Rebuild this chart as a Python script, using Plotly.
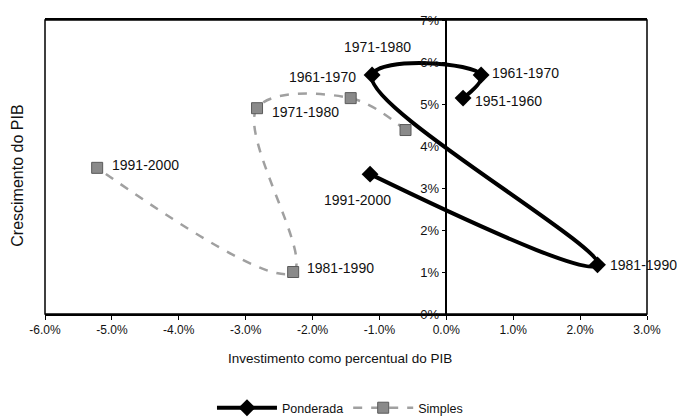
import plotly.graph_objects as go

# ---- data ----
decades = ["1951-1960", "1961-1970", "1971-1980", "1981-1990", "1991-2000"]
pond_x = [0.25, 0.52, -1.11, 2.26, -1.14]
pond_y = [5.14, 5.69, 5.69, 1.17, 3.33]
simp_x = [-0.61, -1.43, -2.83, -2.29, -5.22]
simp_y = [4.38, 5.14, 4.90, 1.00, 3.48]

x_tick_vals = [-6, -5, -4, -3, -2, -1, 0, 1, 2, 3]
x_tick_labels = ["-6.0%", "-5.0%", "-4.0%", "-3.0%", "-2.0%", "-1.0%", "0.0%", "1.0%", "2.0%", "3.0%"]
y_tick_vals = [0, 1, 2, 3, 4, 5, 6, 7]
y_tick_labels = ["0%", "1%", "2%", "3%", "4%", "5%", "6%", "7%"]

# label placement (style): (xanchor, xshift, yshift); None = no label
pond_label_style = [("left", 10, -3), ("left", 9, 2), ("center", 5, 28), ("left", 10, 0), ("center", -13, -26)]
simp_label_style = [None, ("right", 7, 21), ("left", 13, -4), ("left", 12, 4), ("left", 13, 3)]

FONT = "Liberation Sans, Arial, sans-serif"

fig = go.Figure()
fig.add_trace(go.Scatter(
    x=pond_x, y=pond_y, name="Ponderada", mode="lines+markers",
    line=dict(color="black", width=4, shape="spline", smoothing=1.3),
    marker=dict(symbol="diamond", size=13, color="black"),
    cliponaxis=False,
))
fig.add_trace(go.Scatter(
    x=simp_x, y=simp_y, name="Simples", mode="lines+markers",
    line=dict(color="#a0a0a0", width=2.5, dash="dash", shape="spline", smoothing=1.0),
    marker=dict(symbol="square", size=11, color="#8a8a8a", line=dict(color="#5a5a5a", width=1)),
    cliponaxis=False,
))

annotations = []
for xs, ys, styles in ((pond_x, pond_y, pond_label_style), (simp_x, simp_y, simp_label_style)):
    for xv, yv, lab, st in zip(xs, ys, decades, styles):
        if st is None:
            continue
        anchor, dx, dy = st
        annotations.append(dict(x=xv, y=yv, xref="x", yref="y", text=lab, showarrow=False,
                                xanchor=anchor, yanchor="middle", xshift=dx, yshift=dy,
                                font=dict(family=FONT, size=14, color="#111")))

annotations.append(dict(x=-0.045, y=0.47, xref="paper", yref="paper", text="Crescimento do PIB",
                        textangle=-90, showarrow=False, xanchor="center", yanchor="middle",
                        font=dict(family=FONT, size=16, color="#111")))
annotations.append(dict(x=0.49, y=-0.15, xref="paper", yref="paper",
                        text="Investimento como percentual do PIB", showarrow=False,
                        xanchor="center", yanchor="middle",
                        font=dict(family=FONT, size=13.5, color="#111")))

fig.update_layout(
    width=677, height=420,
    margin=dict(l=45, r=30, t=20, b=106, autoexpand=False),
    paper_bgcolor="white", plot_bgcolor="white",
    showlegend=True,
    legend=dict(orientation="h", x=0.49, y=-0.32, xanchor="center", yanchor="middle",
                font=dict(family=FONT, size=12.5, color="#111"), itemwidth=60),
    annotations=annotations,
    shapes=[dict(type="rect", xref="x domain", yref="y domain", x0=0, x1=1, y0=0, y1=1,
                 line=dict(color="black", width=1.5), layer="below")],
    xaxis=dict(range=[-6, 3], tickvals=x_tick_vals, ticktext=x_tick_labels,
               showline=True, linecolor="black", linewidth=1.5, mirror=True,
               ticks="outside", ticklen=4, tickcolor="black",
               showgrid=False, zeroline=False, automargin=False,
               tickfont=dict(family="Liberation Sans Narrow, " + FONT, size=12, color="#111")),
    yaxis=dict(range=[0, 7], tickvals=y_tick_vals, ticktext=y_tick_labels,
               anchor="free", position=6 / 9,
               showline=True, linecolor="black", linewidth=1.5,
               ticks="outside", ticklen=4, tickcolor="black",
               showgrid=False, zeroline=False, automargin=False,
               tickfont=dict(family=FONT, size=13, color="#111")),
)

fig.write_html("out.html", config={"displayModeBar": False},
               post_script="document.body.style.margin='0';document.body.style.overflow='hidden';")
